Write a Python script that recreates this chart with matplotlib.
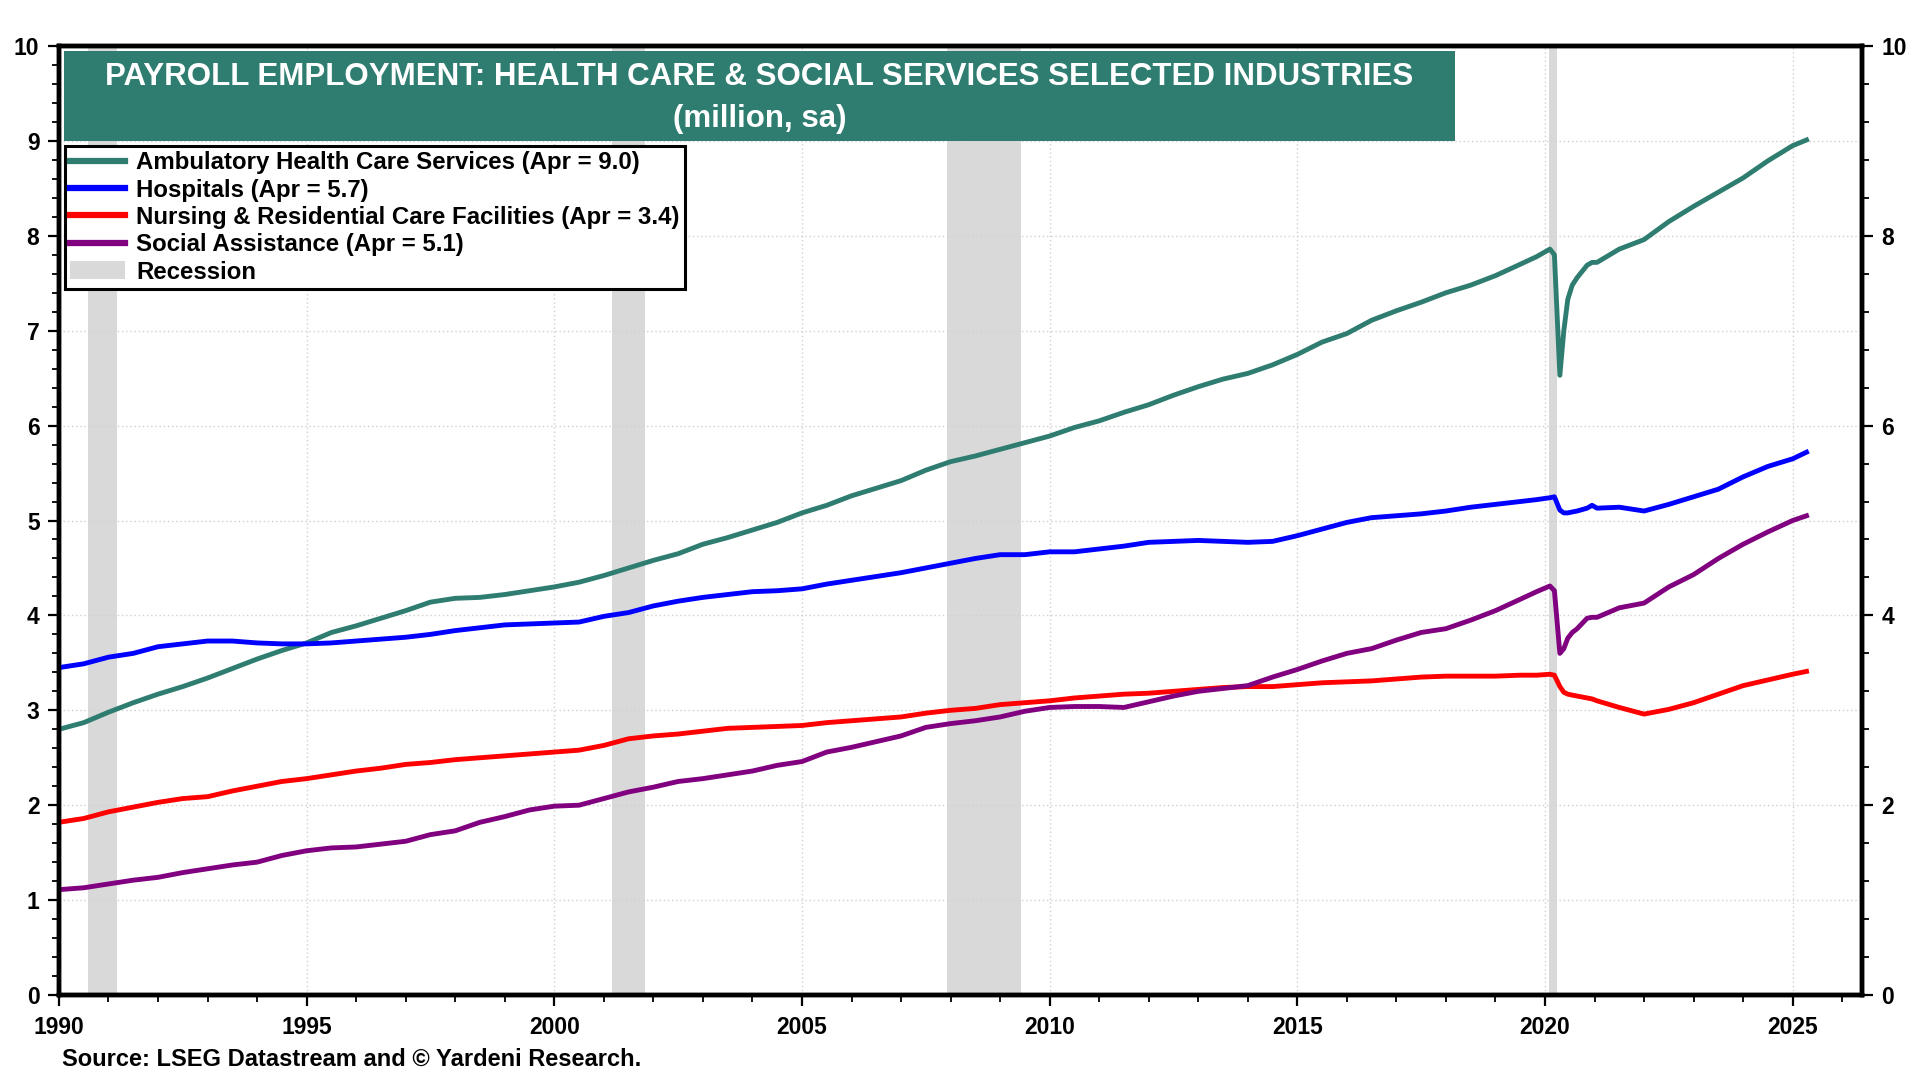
import matplotlib
matplotlib.use("Agg")
import matplotlib.pyplot as plt
from matplotlib.ticker import MultipleLocator, FixedLocator
from matplotlib.patches import Rectangle, Patch
from matplotlib.lines import Line2D

plt.rcParams['font.family'] = ['Liberation Sans', 'DejaVu Sans']
plt.rcParams['font.weight'] = 'bold'

# ---------------- data (million, sa) ----------------
dates = [1990.0, 1990.5, 1991.0, 1991.5, 1992.0, 1992.5, 1993.0, 1993.5, 1994.0, 1994.5,
         1995.0, 1995.5, 1996.0, 1996.5, 1997.0, 1997.5, 1998.0, 1998.5, 1999.0, 1999.5,
         2000.0, 2000.5, 2001.0, 2001.5, 2002.0, 2002.5, 2003.0, 2003.5, 2004.0, 2004.5,
         2005.0, 2005.5, 2006.0, 2006.5, 2007.0, 2007.5, 2008.0, 2008.5, 2009.0, 2009.5,
         2010.0, 2010.5, 2011.0, 2011.5, 2012.0, 2012.5, 2013.0, 2013.5, 2014.0, 2014.5,
         2015.0, 2015.5, 2016.0, 2016.5, 2017.0, 2017.5, 2018.0, 2018.5, 2019.0, 2019.5,
         2019.83, 2020.10, 2020.19, 2020.30, 2020.38, 2020.46, 2020.55, 2020.65, 2020.85, 2020.95,
         2021.05, 2021.5, 2022.0, 2022.5, 2023.0, 2023.5, 2024.0, 2024.5, 2025.0, 2025.28]

ambulatory = [2.80, 2.87, 2.98, 3.08, 3.17, 3.25, 3.34, 3.44, 3.54, 3.63,
              3.71, 3.82, 3.89, 3.97, 4.05, 4.14, 4.18, 4.19, 4.22, 4.26,
              4.30, 4.35, 4.42, 4.50, 4.58, 4.65, 4.75, 4.82, 4.90, 4.98,
              5.08, 5.16, 5.26, 5.34, 5.42, 5.53, 5.62, 5.68, 5.75, 5.82,
              5.89, 5.98, 6.05, 6.14, 6.22, 6.32, 6.41, 6.49, 6.55, 6.64,
              6.75, 6.88, 6.97, 7.11, 7.21, 7.30, 7.40, 7.48, 7.58, 7.70,
              7.78, 7.86, 7.80, 6.53, 7.00, 7.33, 7.48, 7.56, 7.69, 7.72,
              7.72, 7.86, 7.96, 8.15, 8.31, 8.46, 8.61, 8.79, 8.95, 9.01]

hospitals = [3.45, 3.49, 3.56, 3.60, 3.67, 3.70, 3.73, 3.73, 3.71, 3.70,
             3.70, 3.71, 3.73, 3.75, 3.77, 3.80, 3.84, 3.87, 3.90, 3.91,
             3.92, 3.93, 3.99, 4.03, 4.10, 4.15, 4.19, 4.22, 4.25, 4.26,
             4.28, 4.33, 4.37, 4.41, 4.45, 4.50, 4.55, 4.60, 4.64, 4.64,
             4.67, 4.67, 4.70, 4.73, 4.77, 4.78, 4.79, 4.78, 4.77, 4.78,
             4.84, 4.91, 4.98, 5.03, 5.05, 5.07, 5.10, 5.14, 5.17, 5.20,
             5.22, 5.24, 5.25, 5.11, 5.08, 5.08, 5.09, 5.10, 5.13, 5.16,
             5.13, 5.14, 5.10, 5.17, 5.25, 5.33, 5.46, 5.57, 5.65, 5.72]

nursing = [1.82, 1.86, 1.93, 1.98, 2.03, 2.07, 2.09, 2.15, 2.20, 2.25,
           2.28, 2.32, 2.36, 2.39, 2.43, 2.45, 2.48, 2.50, 2.52, 2.54,
           2.56, 2.58, 2.63, 2.70, 2.73, 2.75, 2.78, 2.81, 2.82, 2.83,
           2.84, 2.87, 2.89, 2.91, 2.93, 2.97, 3.00, 3.02, 3.06, 3.08,
           3.10, 3.13, 3.15, 3.17, 3.18, 3.20, 3.22, 3.24, 3.25, 3.25,
           3.27, 3.29, 3.30, 3.31, 3.33, 3.35, 3.36, 3.36, 3.36, 3.37,
           3.37, 3.38, 3.37, 3.25, 3.19, 3.17, 3.16, 3.15, 3.13, 3.12,
           3.10, 3.03, 2.96, 3.01, 3.08, 3.17, 3.26, 3.32, 3.38, 3.41]

social = [1.11, 1.13, 1.17, 1.21, 1.24, 1.29, 1.33, 1.37, 1.40, 1.47,
          1.52, 1.55, 1.56, 1.59, 1.62, 1.69, 1.73, 1.82, 1.88, 1.95,
          1.99, 2.00, 2.07, 2.14, 2.19, 2.25, 2.28, 2.32, 2.36, 2.42,
          2.46, 2.56, 2.61, 2.67, 2.73, 2.82, 2.86, 2.89, 2.93, 2.99,
          3.03, 3.04, 3.04, 3.03, 3.09, 3.15, 3.20, 3.23, 3.26, 3.35,
          3.43, 3.52, 3.60, 3.65, 3.74, 3.82, 3.86, 3.95, 4.05, 4.17,
          4.25, 4.31, 4.26, 3.60, 3.65, 3.76, 3.82, 3.86, 3.97, 3.98,
          3.98, 4.08, 4.13, 4.30, 4.43, 4.60, 4.75, 4.88, 5.00, 5.05]

recessions = [(1990.58, 1991.17), (2001.17, 2001.84), (2007.92, 2009.42), (2020.08, 2020.25)]

series_labels = ["Ambulatory Health Care Services (Apr = 9.0)",
                 "Hospitals (Apr = 5.7)",
                 "Nursing & Residential Care Facilities (Apr = 3.4)",
                 "Social Assistance (Apr = 5.1)"]
title_lines = ["PAYROLL EMPLOYMENT: HEALTH CARE & SOCIAL SERVICES SELECTED INDUSTRIES",
               "(million, sa)"]
x_ticks = [1990, 1995, 2000, 2005, 2010, 2015, 2020, 2025]

# ---------------- styling ----------------
TEAL = '#2E7D70'
colors = [TEAL, '#0000FF', '#FF0000', '#800080']
REC = '#D9D9D9'

fig = plt.figure(figsize=(19.2, 10.8), dpi=100)
ax = fig.add_axes([0.0307, 0.0787, 0.9391, 0.8787])

for a, b in recessions:
    ax.axvspan(a, b, color=REC, zorder=0, lw=0)

for vals, c in zip([ambulatory, hospitals, nursing, social], colors):
    ax.plot(dates, vals, color=c, lw=3.5, zorder=3, solid_joinstyle='round')

ax.set_xlim(1990, 2026.4)
ax.set_ylim(0, 10)
ax.xaxis.set_major_locator(FixedLocator(x_ticks))
ax.xaxis.set_minor_locator(MultipleLocator(1))
ax.yaxis.set_major_locator(MultipleLocator(1))
ax.yaxis.set_minor_locator(MultipleLocator(0.2))
ax.set_xticklabels([str(t) for t in x_ticks])

ax.grid(True, which='major', color='#d0d0d0', lw=1.0, ls=(0, (1, 2)), zorder=1)
ax.set_axisbelow(True)

for s in ax.spines.values():
    s.set_linewidth(3.2)
    s.set_color('black')

ax.tick_params(axis='both', which='major', direction='out', length=8, width=1.6,
               labelsize=16.5, pad=6)
ax.tick_params(axis='both', which='minor', direction='out', length=5, width=1.3)
ax.tick_params(axis='x', which='major', pad=7)
for lab in ax.get_xticklabels() + ax.get_yticklabels():
    lab.set_fontweight('bold')

ax2 = ax.twinx()
ax2.set_ylim(0, 10)
ax2.yaxis.set_major_locator(MultipleLocator(2))
ax2.yaxis.set_minor_locator(MultipleLocator(0.4))
ax2.tick_params(axis='y', which='major', direction='out', length=8, width=1.6,
                labelsize=16.5, pad=6)
ax2.tick_params(axis='y', which='minor', direction='out', length=5, width=1.3)
for lab in ax2.get_yticklabels():
    lab.set_fontweight('bold')
for s in ax2.spines.values():
    s.set_linewidth(3.2)

# title box
ax.add_patch(Rectangle((1990.1, 9.0), 2018.18 - 1990.1, 0.95, facecolor=TEAL,
                       edgecolor='none', zorder=4))
xc = (1990.1 + 2018.18) / 2
ax.text(xc, 9.67, title_lines[0], color='white', fontsize=22.5, fontweight='bold',
        ha='center', va='center', zorder=5)
ax.text(xc, 9.23, title_lines[1], color='white', fontsize=22.5, fontweight='bold',
        ha='center', va='center', zorder=5)

# legend
handles = [Line2D([0], [0], color=c, lw=4.5) for c in colors]
handles.append(Patch(facecolor=REC, edgecolor='none'))
leg = ax2.legend(handles, series_labels + ["Recession"], loc='upper left',
                 bbox_to_anchor=(0.0033, 0.8946), frameon=True, fancybox=False,
                 edgecolor='black', framealpha=1, borderpad=0.22, labelspacing=0.18,
                 handlelength=2.3, handleheight=0.8, handletextpad=0.45,
                 prop={'size': 17.3, 'weight': 'bold'}, borderaxespad=0)
leg.get_frame().set_linewidth(2.2)
leg.set_zorder(10)

fig.text(62 / 1920, 1 - 1059 / 1080, "Source: LSEG Datastream and \u00a9 Yardeni Research.",
         fontsize=17, fontweight='bold', ha='left', va='center')

fig.savefig("out.png", dpi=100)
